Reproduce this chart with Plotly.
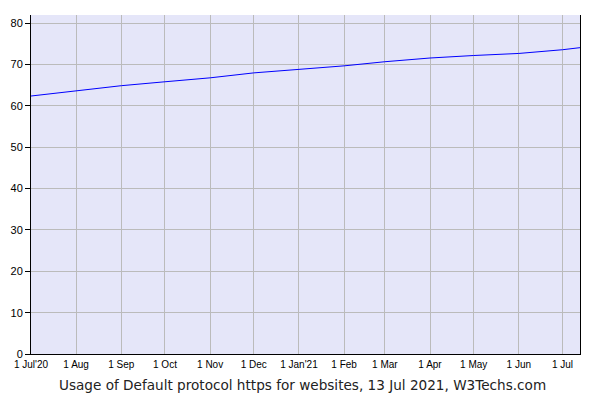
import plotly.graph_objects as go

dates = ["2020-07-01", "2020-08-01", "2020-09-01", "2020-10-01", "2020-11-01",
         "2020-12-01", "2021-01-01", "2021-02-01", "2021-03-01", "2021-04-01",
         "2021-05-01", "2021-06-01", "2021-07-01", "2021-07-13"]
usage = [62.4, 63.7, 64.9, 65.85, 66.8, 68.0, 68.8, 69.7, 70.7, 71.6,
         72.2, 72.7, 73.6, 74.1]

tick_vals = ["2020-07-01", "2020-08-01", "2020-09-01", "2020-10-01", "2020-11-01",
             "2020-12-01", "2021-01-01", "2021-02-01", "2021-03-01", "2021-04-01",
             "2021-05-01", "2021-06-01", "2021-07-01"]
tick_text = ["1 Jul'20", "1 Aug", "1 Sep", "1 Oct", "1 Nov", "1 Dec", "1 Jan'21",
             "1 Feb", "1 Mar", "1 Apr", "1 May", "1 Jun", "1 Jul"]
y_ticks = [0, 10, 20, 30, 40, 50, 60, 70, 80]
title_text = "Usage of Default protocol https for websites, 13 Jul 2021, W3Techs.com"

fig = go.Figure()
fig.add_trace(go.Scatter(x=dates, y=usage, mode="lines",
                         line=dict(color="#0000FF", width=1), hoverinfo="skip"))

fig.update_layout(
    width=592, height=392,
    margin=dict(l=23, r=20, t=7, b=46),
    paper_bgcolor="white", plot_bgcolor="#E5E6F9",
    showlegend=False,
    font=dict(family="Liberation Sans, Arial, sans-serif", color="black"),
    xaxis=dict(range=["2020-07-01", "2021-07-13"], tickmode="array",
               tickvals=tick_vals, ticktext=tick_text, showgrid=True,
               gridcolor="#BBBBBB", gridwidth=1, showline=True, linecolor="black",
               linewidth=1, ticks="", tickfont=dict(size=10), zeroline=False,
               ticklabelstandoff=1, automargin=False),
    yaxis=dict(range=[0, 82], tickmode="array", tickvals=y_ticks, showgrid=True,
               gridcolor="#BBBBBB", gridwidth=1, showline=True, linecolor="black",
               linewidth=1, mirror=True, ticks="outside", ticklen=5,
               tickcolor="black", tickfont=dict(size=11), zeroline=False,
               automargin=False),
    annotations=[dict(text=title_text, xref="paper", yref="paper", x=0.495,
                      y=-0.091, xanchor="center", yanchor="middle", showarrow=False,
                      font=dict(family="DejaVu Sans, Verdana, sans-serif", size=13.6,
                                color="#222222"))],
)

fig.write_html("out.html")
